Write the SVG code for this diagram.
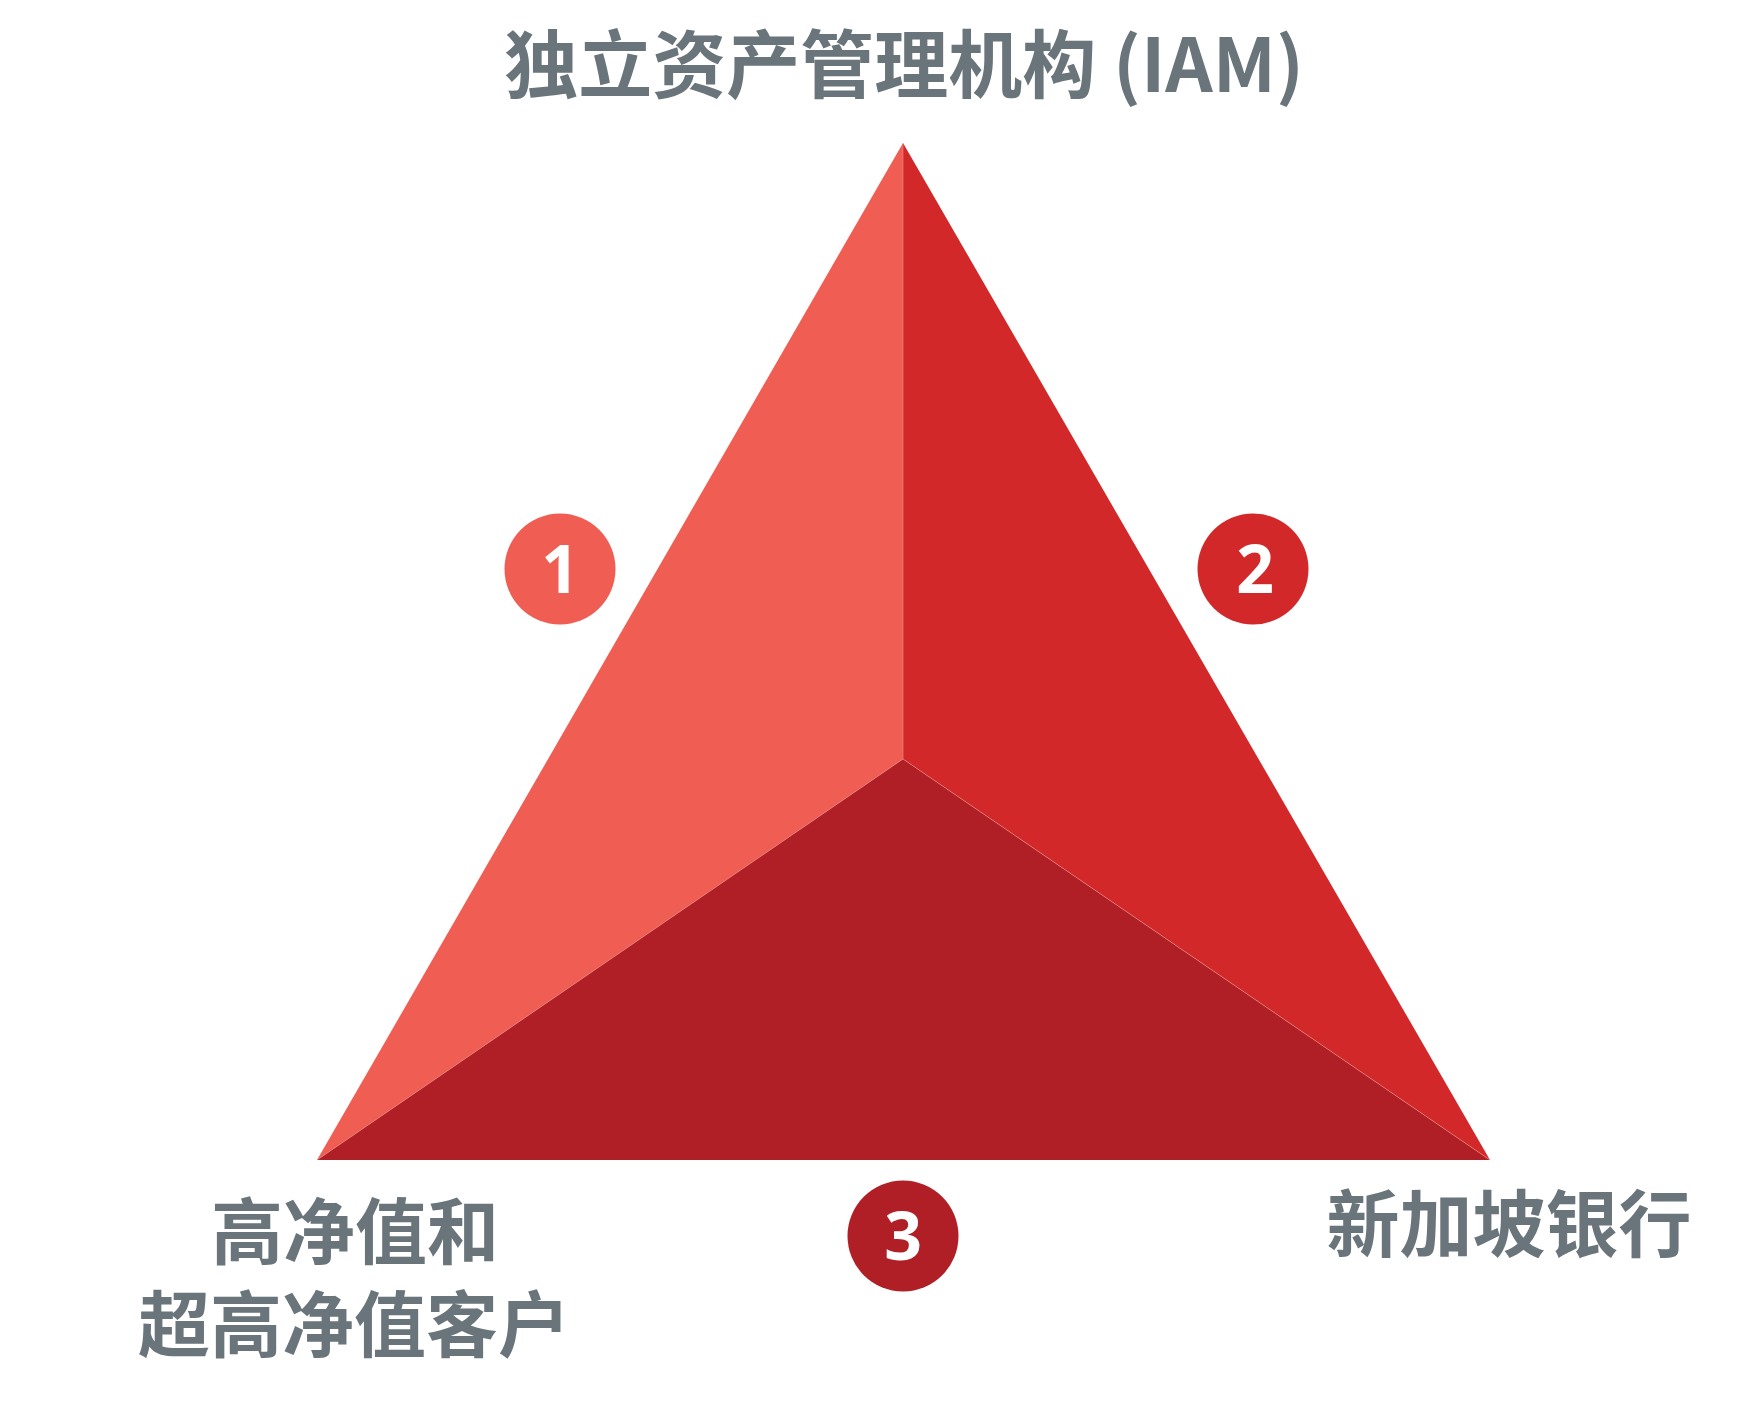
<svg xmlns="http://www.w3.org/2000/svg" width="1741" height="1413" viewBox="0 0 1741 1413">
<style>
.lbl{font-family:"Noto Sans CJK SC","Liberation Sans",sans-serif;font-weight:700;fill:#6A757B;text-anchor:middle}
.num{font-family:"Open Sans","Liberation Sans",sans-serif;font-weight:700;fill:#FFFFFF;text-anchor:middle;font-size:66px}
.seam{stroke:#F28A82;stroke-width:1;fill:none;opacity:0.6}
</style>
<rect width="1741" height="1413" fill="#FFFFFF"/>
<g id="pyramid">
<polygon points="903,143 903,759 317,1160" fill="#EF5D53"/>
<polygon points="903,143 1490,1160 903,759" fill="#D3282A"/>
<polygon points="317,1160 903,759 1490,1160" fill="#B01F25"/>
</g>
<g id="connectors">
<path class="seam" d="M903,143 L903,759 M317,1160 L903,759 L1490,1160"/>
</g>
<g id="node-iam">
<text class="lbl" x="904" y="92" font-size="74">独立资产管理机构 (IAM)</text>
</g>
<g id="node-1">
<circle cx="560" cy="569" r="55.5" fill="#EF5D53"/>
<text class="num" x="560" y="593">1</text>
</g>
<g id="node-2">
<circle cx="1253" cy="569" r="55.5" fill="#D3282A"/>
<text class="num" x="1255" y="593">2</text>
</g>
<g id="node-3">
<circle cx="903" cy="1236" r="55.5" fill="#B01F25"/>
<text class="num" x="903" y="1260">3</text>
</g>
<g id="node-clients">
<text class="lbl" font-size="72"><tspan x="355" y="1258">高净值和</tspan><tspan x="354" y="1351">超高净值客户</tspan></text>
</g>
<g id="node-banks">
<text class="lbl" x="1509" y="1251" font-size="73">新加坡银行</text>
</g>
</svg>
